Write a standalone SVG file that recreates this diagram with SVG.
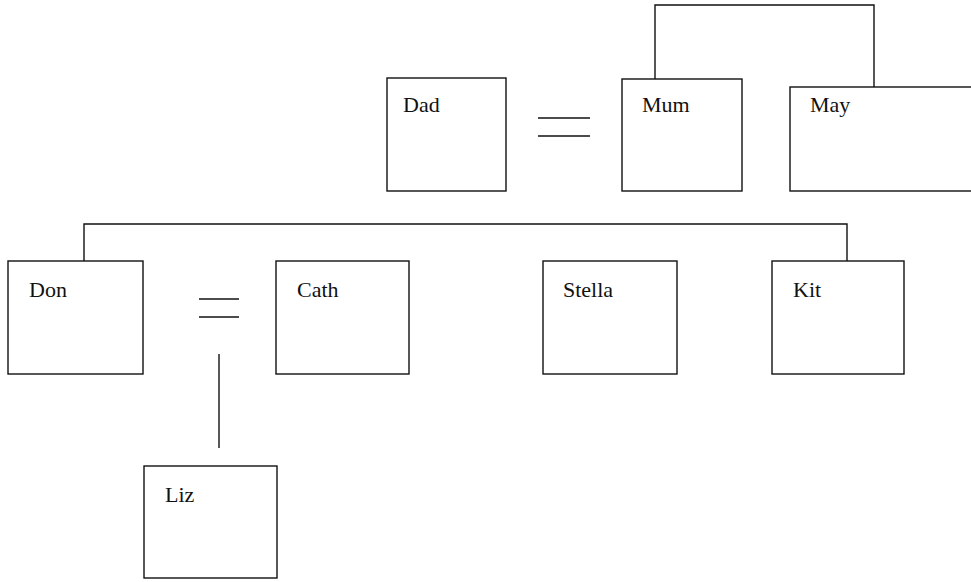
<svg xmlns="http://www.w3.org/2000/svg" width="971" height="582" viewBox="0 0 971 582">
  <style>
    .box { fill: #ffffff; stroke: #111111; stroke-width: 1.4; }
    .link { fill: none; stroke: #111111; stroke-width: 1.4; }
    .name { font-family: "Liberation Serif", "Times New Roman", serif; font-size: 22px; fill: #111111; }
  </style>
  <rect width="971" height="582" fill="#ffffff"/>

  <!-- connectors: sibling brackets, marriage signs, descent line -->
  <g id="connectors">
    <polyline class="link" points="655,79 655,5 874,5 874,87"/>
    <line class="link" x1="538" y1="118" x2="590" y2="118"/>
    <line class="link" x1="538" y1="136" x2="590" y2="136"/>
    <polyline class="link" points="84,261 84,224 847,224 847,261"/>
    <line class="link" x1="199" y1="299" x2="239" y2="299"/>
    <line class="link" x1="199" y1="317" x2="239" y2="317"/>
    <line class="link" x1="219" y1="354" x2="219" y2="448"/>
  </g>

  <g id="dad">
    <rect class="box" x="387" y="78" width="119" height="113"/>
    <text class="name" x="403" y="112">Dad</text>
  </g>
  <g id="mum">
    <rect class="box" x="622" y="79" width="120" height="112"/>
    <text class="name" x="642" y="112">Mum</text>
  </g>
  <g id="may">
    <rect class="box" x="790" y="87" width="190" height="104"/>
    <text class="name" x="810" y="112">May</text>
  </g>
  <g id="don">
    <rect class="box" x="8" y="261" width="135" height="113"/>
    <text class="name" x="29" y="297">Don</text>
  </g>
  <g id="cath">
    <rect class="box" x="276" y="261" width="133" height="113"/>
    <text class="name" x="297" y="297">Cath</text>
  </g>
  <g id="stella">
    <rect class="box" x="543" y="261" width="134" height="113"/>
    <text class="name" x="563" y="297">Stella</text>
  </g>
  <g id="kit">
    <rect class="box" x="772" y="261" width="132" height="113"/>
    <text class="name" x="793" y="297">Kit</text>
  </g>
  <g id="liz">
    <rect class="box" x="144" y="466" width="133" height="112"/>
    <text class="name" x="165" y="502">Liz</text>
  </g>
</svg>
